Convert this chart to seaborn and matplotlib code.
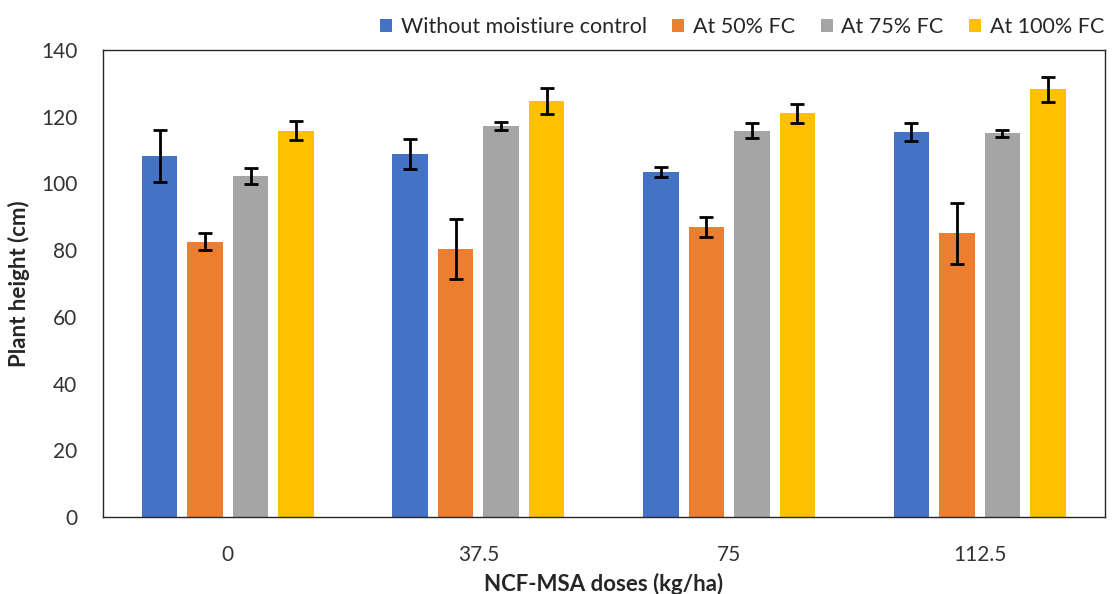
import matplotlib
matplotlib.use("Agg")
import matplotlib.pyplot as plt
import seaborn as sns
import pandas as pd

doses = ["0", "37.5", "75", "112.5"]
series = ["Without moistiure control", "At 50% FC", "At 75% FC", "At 100% FC"]
without_ctrl = [108.2, 108.9, 103.4, 115.4]
fc50 = [82.5, 80.3, 86.8, 85.0]
fc75 = [102.1, 117.1, 115.8, 115.0]
fc100 = [115.8, 124.8, 121.0, 128.2]
err_without = [7.8, 4.5, 1.6, 2.6]
err_50 = [2.6, 9.0, 3.0, 9.1]
err_75 = [2.4, 1.2, 2.2, 1.0]
err_100 = [2.8, 3.9, 2.85, 3.7]
colors = ["#4472C4", "#ED7D31", "#A5A5A5", "#FFC000"]

values = [without_ctrl, fc50, fc75, fc100]
errors = [err_without, err_50, err_75, err_100]

rows = []
for s, vals in zip(series, values):
    for d, v in zip(doses, vals):
        rows.append({"dose": d, "series": s, "height": v})
df = pd.DataFrame(rows)

sns.set_theme(style="white")
plt.rcParams["font.family"] = ["Lato", "DejaVu Sans"]

fig = plt.figure(figsize=(11.18, 5.94), dpi=100)
ax = fig.add_axes([102.5 / 1118, 77 / 594, 1002.5 / 1118, 467 / 594])

sns.barplot(data=df, x="dose", y="height", hue="series", order=doses,
            hue_order=series, palette=colors, width=0.726, gap=0.22,
            errorbar=None, saturation=1, ax=ax, linewidth=0)

for cont, errs in zip(ax.containers, errors):
    xs = [p.get_x() + p.get_width() / 2 for p in cont.patches]
    hs = [p.get_height() for p in cont.patches]
    ax.errorbar(xs, hs, yerr=errs, fmt="none", ecolor="black",
                elinewidth=2, capsize=5, capthick=2, zorder=5)

ax.set_ylim(0, 140)
ax.set_yticks(range(0, 141, 20))
ax.set_xlim(-0.5, 3.5)
ax.tick_params(axis="both", length=0, labelsize=15, colors="#333333")
ax.tick_params(axis="y", pad=18)
ax.tick_params(axis="x", pad=20)
for sp in ax.spines.values():
    sp.set_visible(True)
    sp.set_color("#262626")
    sp.set_linewidth(1.0)

ax.set_ylabel("Plant height (cm)", fontsize=16, fontweight="bold", labelpad=8)
ax.set_xlabel("NCF-MSA doses (kg/ha)", fontsize=16, fontweight="bold", labelpad=6)

ax.legend(ncol=4, loc="lower right", bbox_to_anchor=(1.012, 1.0),
          frameon=False, fontsize=15.5, handlelength=0.55, handleheight=0.55,
          handletextpad=0.4, columnspacing=1.2, borderaxespad=0.2)

fig.savefig("out.png", dpi=100)
